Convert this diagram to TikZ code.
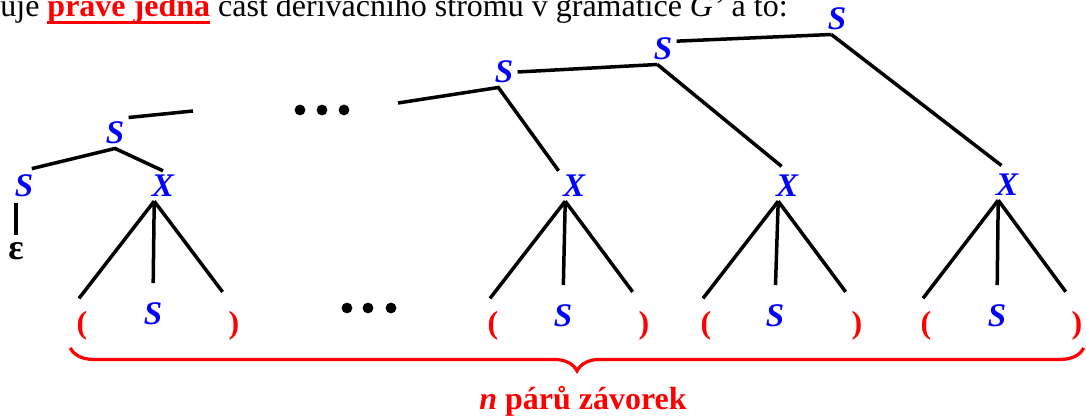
\documentclass[tikz,border=0pt]{standalone}
\usepackage{fontspec}
\setmainfont{Liberation Serif}
\usetikzlibrary{calc,decorations.pathreplacing}
\definecolor{symc}{HTML}{0000FF}
\definecolor{parc}{HTML}{FF0000}
\newcommand{\redul}[1]{\setbox0=\hbox{#1}\rlap{\rule[-3.5pt]{\wd0}{1.65pt}}\box0}
\tikzset{
  txt/.style  ={font=\fontsize{16}{19}\selectfont,inner sep=0pt},
  sym/.style  ={text=symc,font=\fontsize{16.5}{19}\selectfont\bfseries\itshape,inner sep=2pt},
  par/.style  ={text=parc,font=\fontsize{16}{19}\selectfont\bfseries,inner sep=2pt},
  br/.style   ={draw=black,line width=1.75pt},
  legL/.style ={br,shorten >=5.5pt},
  legM/.style ={br,shorten >=7.75pt},
  legR/.style ={br,shorten >=9.5pt},
  dot/.style  ={fill=black},
  brc/.style  ={draw=parc,line width=1.6pt,decorate,decoration={brace,mirror,amplitude=11.5pt}},
}
\begin{document}
\begin{tikzpicture}[x=0.5pt,y=-0.5pt]
\useasboundingbox (0,0) rectangle (1086,416);

\node[txt,anchor=base west] (hdr) at (0,17)
  {uje {\color{parc}\redul{\textbf{právě jedna}}} část derivačního stromu v gramatice \textit{G’} a to:};

% ---------- spine of S nodes ---------------------------------------------
\node[sym] (s0) at (837,19)  {S};
\node[sym] (s1) at (663,49)  {S};
\node[sym] (s2) at (504,72)  {S};
\node[sym] (s3) at (115,133) {S};
\node[sym] (sl) at (24,186)  {S};
\node[txt,font=\fontsize{18}{20}\selectfont\bfseries] (eps) at (16,251) {ε};
\coordinate (cut1) at (193,111);
\coordinate (cut2) at (398,103);

% ---------- X nodes and their ( S ) -------------------------------------
\node[sym] (x1) at (163,186)  {X};
\node[sym] (x2) at (574,186)  {X};
\node[sym] (x3) at (787,186)  {X};
\node[sym] (x4) at (1007,185) {X};
\node[par] (lp1) at (82,326)  {(}; \node[sym] (m1) at (153,314) {S}; \node[par] (rp1) at (234,326)  {)};
\node[par] (lp2) at (493,326) {(}; \node[sym] (m2) at (563,316) {S}; \node[par] (rp2) at (644,326)  {)};
\node[par] (lp3) at (706,326) {(}; \node[sym] (m3) at (775,316) {S}; \node[par] (rp3) at (857,326)  {)};
\node[par] (lp4) at (926,326) {(}; \node[sym] (m4) at (997,316) {S}; \node[par] (rp4) at (1077,326) {)};

% ---------- branches -----------------------------------------------------
\draw[br] (s1.30) -- (s0.-110);
\draw[br,shorten >=3.5pt] (s0.-110) -- (x4.north);
\draw[br] (s2.east) -- (s1.-110);
\draw[br,shorten >=3.5pt] (s1.-110) -- (x3.north);
\draw[br] (cut2) -- (s2.-110) -- (x2.north west);
\draw[br] (s3.north east) -- (cut1);
\draw[br,shorten <=4pt] (sl.north) -- (s3.south) -- (x1.north);
\draw[br,shorten <=1pt,shorten >=3.5pt] (eps.north |- sl.south) -- (eps.north);

\draw[legL] (x1.-120) -- (lp1.north west); \draw[legM] (x1.-120) -- (m1.north); \draw[legR] (x1.-120) -- (rp1.north);
\draw[legL] (x2.-120) -- (lp2.north west); \draw[legM] (x2.-120) -- (m2.north); \draw[legR] (x2.-120) -- (rp2.north);
\draw[legL] (x3.-120) -- (lp3.north west); \draw[legM] (x3.-120) -- (m3.north); \draw[legR] (x3.-120) -- (rp3.north);
\draw[legL] (x4.-120) -- (lp4.north west); \draw[legM] (x4.-120) -- (m4.north); \draw[legR] (x4.-120) -- (rp4.north);

% ---------- dots ---------------------------------------------------------
\fill[dot] (300,110) circle (2.7pt) (322,110) circle (2.7pt) (344,110) circle (2.7pt);
\fill[dot] (347,308) circle (2.7pt) (368,308) circle (2.7pt) (391,308) circle (2.7pt);

% ---------- brace --------------------------------------------------------
\draw[brc] ([xshift=-1pt,yshift=-1.5pt]lp1.south west) -- ([xshift=-1.5pt,yshift=-1.5pt]rp4.south east);
\node[txt,anchor=base,text=parc,font=\fontsize{16}{19}\selectfont\bfseries] (lbl) at (583,409)
  {\textit{n} párů závorek};
\end{tikzpicture}
\end{document}
